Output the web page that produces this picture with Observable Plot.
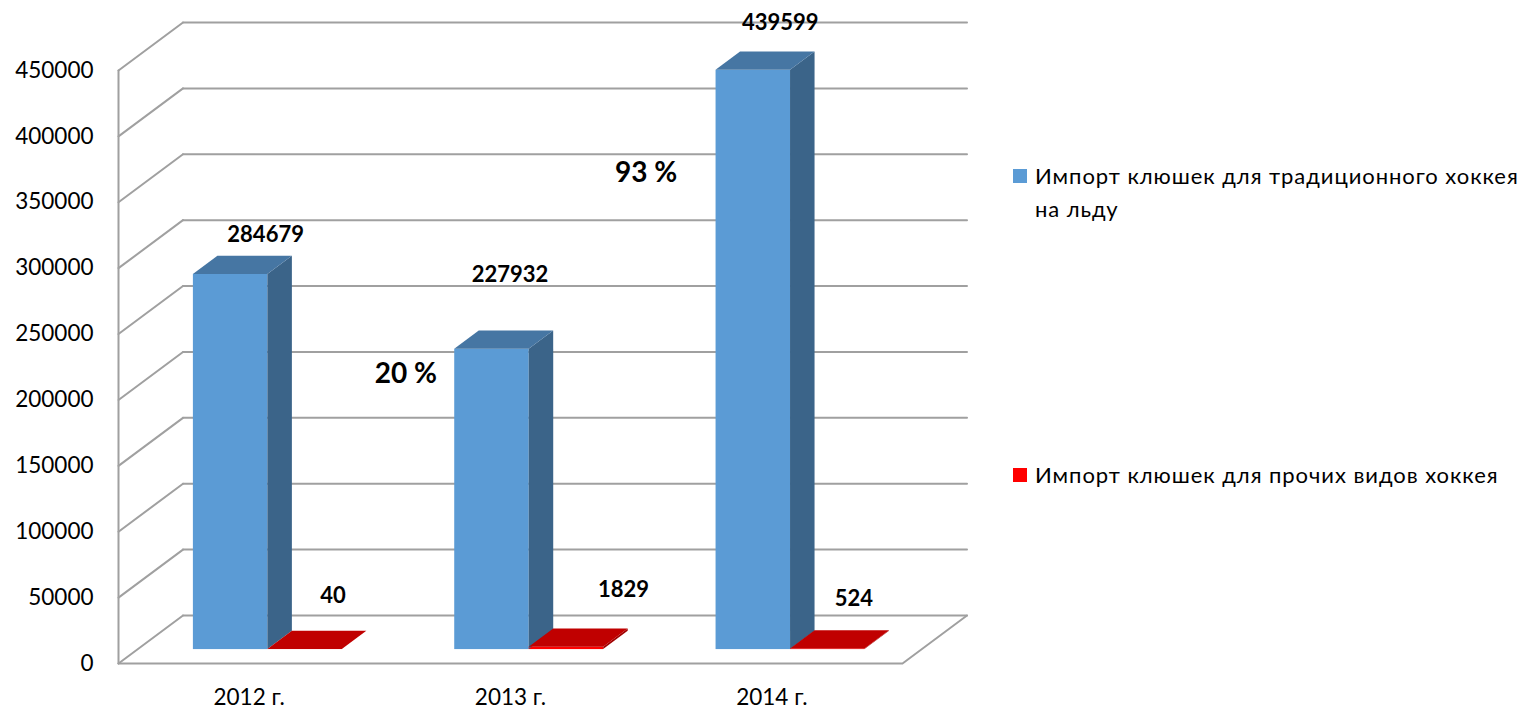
<!DOCTYPE html>
<html>
<head>
<meta charset="utf-8">
<script src="https://cdn.jsdelivr.net/npm/d3@7"></script>
<script src="https://cdn.jsdelivr.net/npm/@observablehq/plot@0.6"></script>
<style>
  html, body { margin: 0; padding: 0; background: #ffffff; }
  #wrap { position: relative; width: 1531px; height: 710px; font-family: Lato, "Open Sans", sans-serif; }
  .lg-sw { position: absolute; width: 14px; height: 14px; }
  .lg-tx { position: absolute; font-size: 22px; letter-spacing: 0.95px; line-height: 33px; color: #000; white-space: nowrap; }
</style>
</head>
<body>
<div id="wrap"></div>
<script>
// ---------- data ----------
const years = ["2012 г.", "2013 г.", "2014 г."];
const traditional = [284679, 227932, 439599];
const other = [40, 1829, 524];
const seriesNames = ["Импорт клюшек для традиционного хоккея на льду", "Импорт клюшек для прочих видов хоккея"];
const yTicks = [0, 50000, 100000, 150000, 200000, 250000, 300000, 350000, 400000, 450000];

// ---------- layout ----------
const W = 1531, H = 710;
const mL = 118, mR = 629, mT = 70, mB = 47;
const yMax = 450000;
const pxPerU = (W - mL - mR) / years.length;
const pxPerV = (H - mT - mB) / yMax;
const DEPTH_X = 64.5, DEPTH_Y = 48;         // pixel offset of the back wall
const KX = DEPTH_X / pxPerU, KY = DEPTH_Y / pxPerV;
const Z0 = 0.29, Z1 = 0.67;                 // bar depth (front, back)
const BW = 0.285;                            // bar width in category units
const P = (u, v, z) => ({x: u + z * KX, y: v + z * KY});

const colors = {
  blue: {front: "#5b9bd5", side: "#3b6489", top: "#4676a3"},
  red: {front: "#ff0000", side: "#a00000", top: "#c00000"}
};
const grid = "#a0a0a0";
const font = "Lato, 'Open Sans', sans-serif";

// ---------- walls / grid ----------
const segs = [];
const nCat = years.length;
yTicks.forEach((v, k) => {
  [P(0, v, 1), P(nCat, v, 1)].forEach(p => segs.push({...p, seg: "b" + k}));
  [P(0, v, 0), P(0, v, 1)].forEach(p => segs.push({...p, seg: "s" + k}));
});
[P(0, 0, 0), P(0, yMax, 0)].forEach(p => segs.push({...p, seg: "left"}));
[P(0, 0, 0), P(nCat, 0, 0), P(nCat, 0, 1)].forEach(p => segs.push({...p, seg: "floor"}));

// ---------- bars ----------
const bars = [];
years.forEach((yr, i) => {
  bars.push({id: "t" + i, i, v: traditional[i], u0: i + 0.5 - BW, u1: i + 0.5, c: colors.blue});
  bars.push({id: "o" + i, i, v: other[i], u0: i + 0.5, u1: i + 0.5 + BW, c: colors.red});
});
const fronts = bars.map(b => ({
  id: b.id, fill: b.c.front,
  x1: b.u0 + Z0 * KX, x2: b.u1 + Z0 * KX, y1: Z0 * KY, y2: b.v + Z0 * KY
}));
const sides = bars.flatMap(b => [Z0, Z1].map(z => ({
  id: b.id, fill: b.c.side, x: b.u1 + z * KX, y1: z * KY, y2: b.v + z * KY
})));
const tops = bars.flatMap(b => [Z0, Z1].map(z => ({
  id: b.id, fill: b.c.top, y: b.v + z * KY, x1: b.u0 + z * KX, x2: b.u1 + z * KX
})));

// label nudges (pixels) relative to the bar's front-top centre
const nudges = {t0: [35, -39], t1: [18, -74], t2: [27, -47], o0: [28, -54], o1: [57, -57], o2: [26, -50]};
const valueLabelMarks = bars.map(b => {
  const p = P((b.u0 + b.u1) / 2, b.v, Z0);
  return Plot.text([b], {x: () => p.x, y: () => p.y, text: d => String(d.v),
    dx: nudges[b.id][0], dy: nudges[b.id][1], fontSize: 22, fontWeight: "bold", fill: "#000"});
});

// growth labels between consecutive years
const pctNudges = [[26, 48], [5, -51]];
const pctMarks = traditional.slice(1).map((v, k) => {
  const prev = traditional[k];
  const txt = Math.round(Math.abs(v / prev - 1) * 100) + " %";
  const p = P(k + 1, (v + prev) / 2, 0);
  return Plot.text([txt], {x: () => p.x, y: () => p.y, text: d => d,
    dx: pctNudges[k][0], dy: pctNudges[k][1], fontSize: 28, fontWeight: "bold", fill: "#000"});
});

const chart = Plot.plot({
  width: W, height: H,
  marginLeft: mL, marginRight: mR, marginTop: mT, marginBottom: mB,
  x: {domain: [0, nCat], axis: null},
  y: {domain: [0, yMax], axis: null},
  style: {fontFamily: font, background: "transparent", overflow: "visible"},
  marks: [
    Plot.line(segs, {x: "x", y: "y", z: "seg", stroke: grid, strokeWidth: 2}),
    Plot.rect(fronts, {x1: "x1", x2: "x2", y1: "y1", y2: "y2", fill: "fill"}),
    Plot.areaY(sides, {x: "x", y1: "y1", y2: "y2", z: "id", fill: "fill"}),
    Plot.areaX(tops, {y: "y", x1: "x1", x2: "x2", z: "id", fill: "fill"}),
    Plot.text(yTicks, {x: 0, y: d => d, text: d => String(d), textAnchor: "end", dx: -25, fontSize: 22.5, fill: "#000"}),
    Plot.text(years, {x: (d, i) => i + 0.5, y: 0, text: d => d, dy: 34, fontSize: 22.5, fill: "#000"}),
    ...valueLabelMarks,
    ...pctMarks
  ]
});
const wrap = document.getElementById("wrap");
wrap.appendChild(chart);

// ---------- legend ----------
const legend = [
  {name: seriesNames[0], color: colors.blue.front, sw: [1013, 169], tx: [1035, 159], lines: ["Импорт клюшек для традиционного хоккея", "на льду"]},
  {name: seriesNames[1], color: colors.red.front, sw: [1013, 468], tx: [1035, 458], lines: ["Импорт клюшек для прочих видов хоккея"]}
];
legend.forEach(l => {
  const sw = document.createElement("div");
  sw.className = "lg-sw";
  sw.style.left = l.sw[0] + "px"; sw.style.top = l.sw[1] + "px"; sw.style.background = l.color;
  const tx = document.createElement("div");
  tx.className = "lg-tx";
  tx.style.left = l.tx[0] + "px"; tx.style.top = l.tx[1] + "px";
  tx.innerHTML = l.lines.join("<br>");
  wrap.appendChild(sw); wrap.appendChild(tx);
});
</script>
</body>
</html>
